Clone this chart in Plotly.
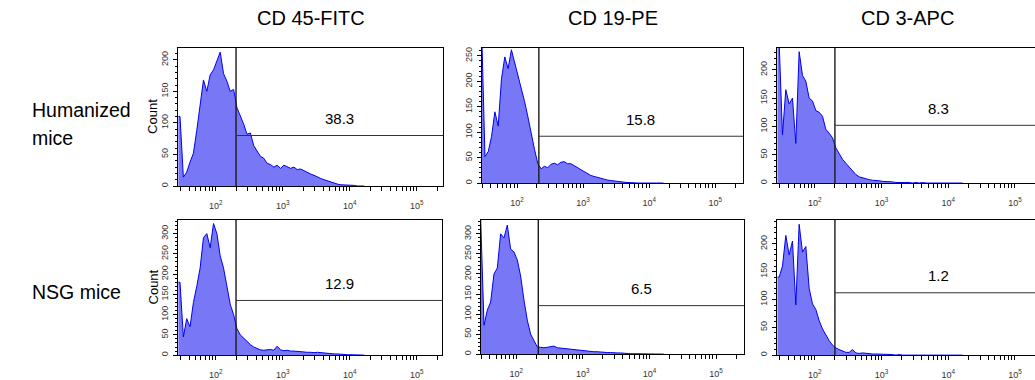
import numpy as np
import plotly.graph_objects as go

# ---------------- data ----------------
BIN_LOG_START = 1.44      # log10 of the first channel edge
BIN_LOG_WIDTH = 0.05      # channel width in decades

col_titles = ["CD 45-FITC", "CD 19-PE", "CD 3-APC"]
row_labels = [["Humanized", "mice"], ["NSG mice"]]

# event counts per channel
hum_cd45 = [110, 14, 22, 38, 52, 88, 125, 168, 150, 176, 184, 198, 212, 178, 166, 150,
            153, 124, 112, 98, 82, 84, 64, 56, 47, 44, 36, 34, 30, 33, 28, 33,
            30, 28, 30, 26, 27, 24, 22, 19, 17, 14, 12, 10, 8, 6, 5, 3,
            2, 2, 1, 1, 1, 0, 0, 0]
hum_cd19 = [300, 52, 62, 92, 140, 112, 205, 248, 225, 262, 236, 214, 186, 160, 130, 96,
            66, 38, 28, 33, 30, 37, 39, 36, 41, 42, 38, 38, 34, 30, 27, 22,
            18, 15, 13, 11, 9, 8, 6, 5, 4, 3, 2, 2, 1, 1, 0, 0,
            0, 0, 0, 0, 0, 0, 0, 0]
hum_cd3 = [250, 85, 165, 140, 150, 70, 232, 190, 180, 150, 145, 128, 125, 118, 95, 88,
           80, 62, 52, 42, 35, 28, 22, 15, 11, 9, 7, 6, 5, 5, 4, 3,
           3, 2, 2, 1, 1, 2, 1, 1, 0, 1, 0, 1, 0, 0, 0, 0,
           0, 0, 0, 0, 0, 0, 0, 0]
nsg_cd45 = [180, 45, 90, 70, 130, 170, 215, 290, 300, 265, 325, 300, 245, 215, 165, 125,
            100, 65, 50, 42, 33, 26, 20, 16, 13, 12, 13, 14, 12, 22, 13, 11,
            12, 10, 10, 9, 8, 8, 7, 7, 6, 7, 6, 5, 4, 4, 3, 3,
            2, 2, 1, 1, 1, 0, 0, 0]
nsg_cd19 = [340, 72, 110, 130, 200, 215, 300, 290, 322, 262, 255, 235, 195, 135, 85, 50,
            32, 18, 17, 16, 17, 18, 20, 16, 15, 14, 13, 12, 11, 10, 9, 9,
            8, 7, 6, 6, 5, 5, 4, 4, 3, 3, 3, 2, 2, 1, 1, 1,
            1, 0, 0, 0, 0, 0, 0, 0]
nsg_cd3 = [140, 160, 215, 180, 205, 90, 235, 185, 195, 120, 92, 82, 62, 47, 36, 26,
           18, 13, 10, 7, 5, 5, 10, 4, 3, 4, 3, 3, 2, 2, 2, 1,
           1, 1, 1, 0, 1, 0, 0, 0, 0, 0, 0, 0, 0, 0, 0, 0,
           0, 0, 0, 0, 0, 0, 0, 0]

series = [hum_cd45, hum_cd19, hum_cd3, nsg_cd45, nsg_cd19, nsg_cd3]

gate_x = [200, 214, 200, 200, 214, 200]          # vertical gate (fluorescence)
gate_y = [80, 92, 102, 135, 121, 112]            # horizontal gate level (count)
gate_pct = ["38.3", "15.8", "8.3", "12.9", "6.5", "1.2"]

# ---------------- layout geometry (pixels of a 1035 x 380 page) ----------------
W, H = 1035, 380
panels = [
    dict(px=(178, 443), py=(47, 186), ymax=219, xr=(1.435, 5.39), right=5.39, mirror_y=True),
    dict(px=(482, 743), py=(47, 183), ymax=266, xr=(1.47, 5.42), right=5.42, mirror_y=True),
    dict(px=(777, 1035), py=(47, 183), ymax=239, xr=(1.433, 5.30), right=5.41, mirror_y=False),
    dict(px=(178, 442), py=(220, 356), ymax=334, xr=(1.435, 5.375), right=5.375, mirror_y=True),
    dict(px=(481, 744), py=(220, 355), ymax=335, xr=(1.47, 5.42), right=5.42, mirror_y=True),
    dict(px=(777, 1035), py=(220, 356), ymax=243, xr=(1.433, 5.30), right=5.41, mirror_y=False),
]

FONT = "Arial, 'Liberation Sans', sans-serif"
FILL = "#7878F7"
LINE = "#0000F0"

fig = go.Figure()
layout = dict(
    width=W, height=H, margin=dict(l=0, r=0, t=0, b=0),
    paper_bgcolor="white", plot_bgcolor="white", showlegend=False,
    font=dict(family=FONT, color="#000"),
)


def x_ticks(lo, hi):
    major, minor, txt = [], [], []
    for e in range(1, 6):
        for d in range(1, 10):
            v = d * 10 ** e
            if lo <= np.log10(v) <= hi:
                if d == 1:
                    major.append(v)
                    txt.append(f"10<sup>{e}</sup>")
                else:
                    minor.append(v)
    return major, txt, minor


annotations = []
for i, (counts, p) in enumerate(zip(series, panels)):
    ax = "" if i == 0 else str(i + 1)
    xa, ya = "x" + ax, "y" + ax
    n = len(counts)
    centers = 10 ** (BIN_LOG_START + BIN_LOG_WIDTH * (np.arange(n) + 0.5))
    xs = np.concatenate([[10 ** BIN_LOG_START], centers])
    ys = [counts[0]] + list(counts)
    fig.add_trace(go.Scatter(
        x=xs, y=ys, mode="lines", line=dict(color=LINE, width=1),
        fill="tozeroy", fillcolor=FILL, xaxis=xa, yaxis=ya, hoverinfo="skip"))
    # gates
    fig.add_trace(go.Scatter(
        x=[gate_x[i], gate_x[i]], y=[0, p["ymax"]], mode="lines",
        line=dict(color="#1a1a1a", width=1.4), xaxis=xa, yaxis=ya, hoverinfo="skip"))
    fig.add_trace(go.Scatter(
        x=[gate_x[i], 10 ** p["xr"][1]], y=[gate_y[i], gate_y[i]], mode="lines",
        line=dict(color="#333", width=1), xaxis=xa, yaxis=ya, hoverinfo="skip"))

    tv, tt, mv = x_ticks(p["xr"][0], p["xr"][1])
    layout["xaxis" + ax] = dict(
        type="log", range=list(p["xr"]), domain=[p["px"][0] / W, p["px"][1] / W],
        anchor=ya, showgrid=False, zeroline=False, showline=True, linecolor="#000",
        linewidth=1, mirror=True, ticks="outside", ticklen=4, tickcolor="#000",
        tickmode="array", tickvals=tv, ticktext=tt, ticklabelstandoff=7,
        tickfont=dict(size=9, color="#333"),
        minor=dict(tickmode="array", tickvals=mv, ticks="outside", ticklen=4,
                   tickcolor="#000", showgrid=False),
    )
    layout["yaxis" + ax] = dict(
        range=[0, p["ymax"]], domain=[1 - p["py"][1] / H, 1 - p["py"][0] / H],
        anchor=xa, showgrid=False, zeroline=False, showline=True, linecolor="#000",
        linewidth=1, mirror=p["mirror_y"], ticks="outside", ticklen=4, tickcolor="#000",
        tickmode="linear", tick0=0, dtick=50, tickangle=-90,
        tickfont=dict(size=9, color="#333"), ticklabelstandoff=1,
        minor=dict(ticks="outside", ticklen=2, dtick=10, tickcolor="#000"),
    )
    cx = (np.log10(gate_x[i]) + p["right"]) / 2
    annotations.append(dict(
        x=cx, y=gate_y[i], xref=xa, yref=ya, text=gate_pct[i], showarrow=False,
        xanchor="center", yanchor="middle", yshift=17,
        font=dict(size=15, color="#000", family=FONT)))

title_x = [310.5, 612.5, 907]
for t, cx in zip(col_titles, title_x):
    annotations.append(dict(x=cx / W, y=1 - 17 / H, xref="paper", yref="paper", text=t,
                            showarrow=False, xanchor="center", yanchor="middle",
                            font=dict(size=20, family=FONT)))
row_line_y = [[110, 138], [293]]
for lines, ys in zip(row_labels, row_line_y):
    for t, yy in zip(lines, ys):
        annotations.append(dict(x=30 / W, y=1 - yy / H, xref="paper", yref="paper", text=t,
                                showarrow=False, xanchor="left", yanchor="middle",
                                font=dict(size=19.5, family=FONT)))
for p in (panels[0], panels[3]):
    annotations.append(dict(x=153 / W, y=1 - (p["py"][0] + p["py"][1]) / 2 / H,
                            xref="paper", yref="paper", text="Count", textangle=-90,
                            showarrow=False, xanchor="center", yanchor="middle",
                            font=dict(size=13, family=FONT)))

layout["annotations"] = annotations
fig.update_layout(**layout)
fig.write_html("out.html", config={"displayModeBar": False},
               post_script="document.body.style.margin='0';document.body.style.overflow='hidden';")
